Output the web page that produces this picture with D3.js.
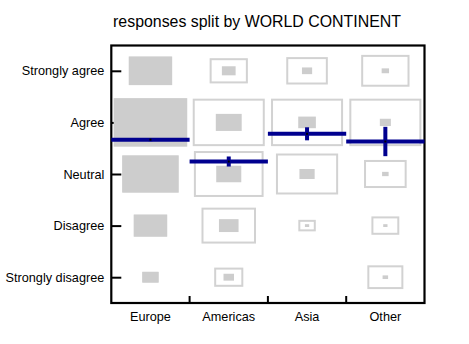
<!DOCTYPE html>
<html>
<head>
<meta charset="utf-8">
<script src="https://cdn.jsdelivr.net/npm/d3@7"></script>
<style>
  body { margin: 0; background: #fff; }
  svg { display: block; font-family: "Liberation Sans", Arial, sans-serif; }
</style>
</head>
<body>
<svg id="chart" width="469" height="344"></svg>
<script>
// ---- data ----
const title = "responses split by WORLD CONTINENT";
const continents = ["Europe", "Americas", "Asia", "Other"];
const responses = ["Strongly disagree", "Disagree", "Neutral", "Agree", "Strongly agree"]; // scores 1..5
const scores = [1, 2, 3, 4, 5];
// counts per continent, ordered Strongly disagree .. Strongly agree
const europe   = [44, 185, 526, 889, 310];
const americas = [18, 63, 103, 110, 31];
const asia     = [0, 3, 38, 51, 17];
const other    = [5, 3, 7, 20, 9];
// mean score per continent and half-width of its interval
const means    = [3.665, 3.242, 3.779, 3.63];
const ciHalf   = [0.01, 0.078, 0.107, 0.265];

const counts = [europe, americas, asia, other];

// ---- layout ----
const svg = d3.select("#chart");
const L = 111.3, R = 424.5, T = 45, B = 303;

const x = d3.scaleBand().domain(continents).range([L, R]).paddingInner(0).paddingOuter(0);
const y = d3.scaleLinear().domain([0.5, 5.5]).range([B, T]);
const rowH = Math.abs(y(1) - y(2));
const colW = x.bandwidth();

const globalMax = d3.max(counts, c => d3.max(c));
const fillSize = d3.scaleSqrt().domain([0, globalMax]).range([0, 0.94]);

const outlineColor = "#d2d2d2";
const fillColor = "#cdcdcd";
const blue = "#00008f";

// title
svg.append("text")
  .attr("x", 257).attr("y", 27)
  .attr("text-anchor", "middle")
  .attr("font-size", 15.9)
  .attr("fill", "#000")
  .text(title);

// y axis (ticks pointing inward)
const yAxis = d3.axisLeft(y)
  .tickValues(scores)
  .tickFormat((d, i) => responses[i])
  .tickSizeInner(-10).tickSizeOuter(0).tickPadding(7);
const gy = svg.append("g").attr("transform", `translate(${L},0)`).call(yAxis);
gy.select(".domain").remove();
gy.selectAll(".tick line").attr("stroke", "#000").attr("stroke-width", 2);
gy.selectAll(".tick text").attr("font-size", 12.7).attr("fill", "#000")
  .attr("font-family", "Liberation Sans, Arial, sans-serif");

// x axis labels
const xAxis = d3.axisBottom(x).tickSize(0).tickPadding(9);
const gx = svg.append("g").attr("transform", `translate(0,${B})`).call(xAxis);
gx.select(".domain").remove();
gx.selectAll(".tick line").remove();
gx.selectAll(".tick text").attr("font-size", 12.7).attr("fill", "#000")
  .attr("font-family", "Liberation Sans, Arial, sans-serif");

// x boundary ticks (pointing inward)
svg.append("g").selectAll("line")
  .data(continents.slice(1))
  .join("line")
  .attr("x1", d => x(d)).attr("x2", d => x(d))
  .attr("y1", B).attr("y2", B - 7)
  .attr("stroke", "#000").attr("stroke-width", 2);

// cells
const cells = [];
continents.forEach((c, ci) => {
  const colMax = d3.max(counts[ci]);
  const outlineSize = d3.scaleSqrt().domain([0, colMax]).range([0, 0.92]);
  scores.forEach((s, si) => {
    cells.push({
      cont: c, score: s, count: counts[ci][si],
      fo: outlineSize(counts[ci][si]),
      ff: fillSize(counts[ci][si])
    });
  });
});

const cx = d => x(d.cont) + colW / 2;

// outlines (within-continent share)
svg.append("g").selectAll("rect")
  .data(cells.filter(d => d.count > 0))
  .join("rect")
  .attr("x", d => cx(d) - d.fo * colW / 2 + 1)
  .attr("y", d => y(d.score) - d.fo * rowH / 2 + 1)
  .attr("width", d => Math.max(0, d.fo * colW - 2))
  .attr("height", d => Math.max(0, d.fo * rowH - 2))
  .attr("fill", "none")
  .attr("stroke", outlineColor)
  .attr("stroke-width", 2);

// filled boxes (absolute counts)
svg.append("g").selectAll("rect")
  .data(cells.filter(d => d.count > 0))
  .join("rect")
  .attr("x", d => cx(d) - d.ff * colW / 2)
  .attr("y", d => y(d.score) - d.ff * rowH / 2)
  .attr("width", d => d.ff * colW)
  .attr("height", d => d.ff * rowH)
  .attr("fill", fillColor);

// frame
svg.append("rect")
  .attr("x", L).attr("y", T + 0.5)
  .attr("width", R - L).attr("height", B - T - 0.5)
  .attr("fill", "none").attr("stroke", "#000").attr("stroke-width", 2.2);

// mean lines
const gm = svg.append("g");
gm.selectAll("line.mean")
  .data(continents)
  .join("line").attr("class", "mean")
  .attr("x1", d => x(d)).attr("x2", d => x(d) + colW)
  .attr("y1", (d, i) => y(means[i])).attr("y2", (d, i) => y(means[i]))
  .attr("stroke", blue).attr("stroke-width", 4);
gm.selectAll("line.ci")
  .data(continents)
  .join("line").attr("class", "ci")
  .attr("x1", d => x(d) + colW / 2).attr("x2", d => x(d) + colW / 2)
  .attr("y1", (d, i) => y(means[i] + ciHalf[i]) - 1)
  .attr("y2", (d, i) => y(means[i] - ciHalf[i]) + 1)
  .attr("stroke", blue).attr("stroke-width", 4);
gm.selectAll("rect.pt")
  .data(continents)
  .join("rect").attr("class", "pt")
  .attr("x", d => x(d) + colW / 2 - 1)
  .attr("y", (d, i) => y(means[i]) - 1)
  .attr("width", 2).attr("height", 2)
  .attr("fill", "#000");
</script>
</body>
</html>
